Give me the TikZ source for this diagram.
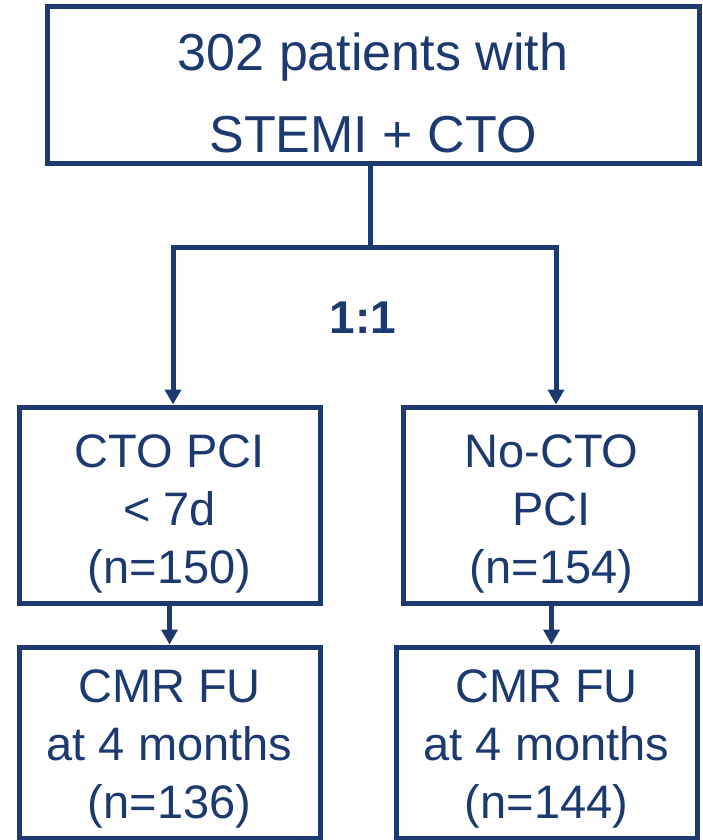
\documentclass[tikz,border=0pt]{standalone}
\usepackage{fontspec}
\setmainfont{Liberation Sans}
\usepackage{xcolor}
\usetikzlibrary{positioning,arrows.meta,calc}

\definecolor{navy}{RGB}{28,58,112}

\begin{document}
\begin{tikzpicture}[x=1pt, y=-1pt, line width=5pt, draw=navy, text=navy,
    box/.style={draw=navy, line width=5pt, align=center, inner sep=0pt},
    flow/.style={draw=navy, line width=5pt},
    arrow/.style={flow, -{Triangle[width=16pt,length=15pt]}}]
  \useasboundingbox (0,0) rectangle (703,840);

  % Enrolment
  \node[box, minimum width=652pt, minimum height=156pt, font=\fontsize{52}{82}\selectfont] (enrol) at (373, 85) {\rule{0pt}{53pt}302 patients with\\STEMI + CTO};

  % Randomised arms
  \node[box, minimum width=301pt, minimum height=196pt, font=\fontsize{47}{58}\selectfont] (ctopci) at (169.5, 505) {\rule{0pt}{50pt}CTO PCI\\< 7d\\(n=150)};
  \node[box, minimum width=297pt, minimum height=196pt, font=\fontsize{47}{58}\selectfont] (nocto) at (551.5, 505) {\rule{0pt}{50pt}No-CTO\\PCI\\(n=154)};

  % Follow-up
  \node[box, minimum width=301pt, minimum height=191pt, font=\fontsize{47}{58}\selectfont] (cmrcto) at (169.5, 742.5) {\rule{0pt}{46pt}CMR FU\\at 4 months\\(n=136)};
  \node[box, minimum width=301pt, minimum height=191pt, font=\fontsize{47}{58}\selectfont] (cmrno) at (546.5, 742.5) {\rule{0pt}{46pt}CMR FU\\at 4 months\\(n=144)};

  % Split 1:1
  \coordinate (split) at (370, 247);
  \coordinate (splitl) at (173, 247);
  \coordinate (splitr) at (556, 247);
  \draw[flow] (enrol.south -| split) -- (split);
  \draw[flow, line cap=rect] (splitl) -- (splitr);
  \draw[arrow] (splitl) -- (splitl |- ctopci.north);
  \draw[arrow] (splitr) -- (splitr |- nocto.north);
  \node[anchor=base, font=\bfseries\fontsize{46}{50}\selectfont] (ratio) at (363, 333) {1:1};

  % To follow-up
  \draw[arrow] (ctopci.south) -- (ctopci.south |- cmrcto.north);
  \draw[arrow] (nocto.south) -- (nocto.south |- cmrno.north);

\end{tikzpicture}
\end{document}
